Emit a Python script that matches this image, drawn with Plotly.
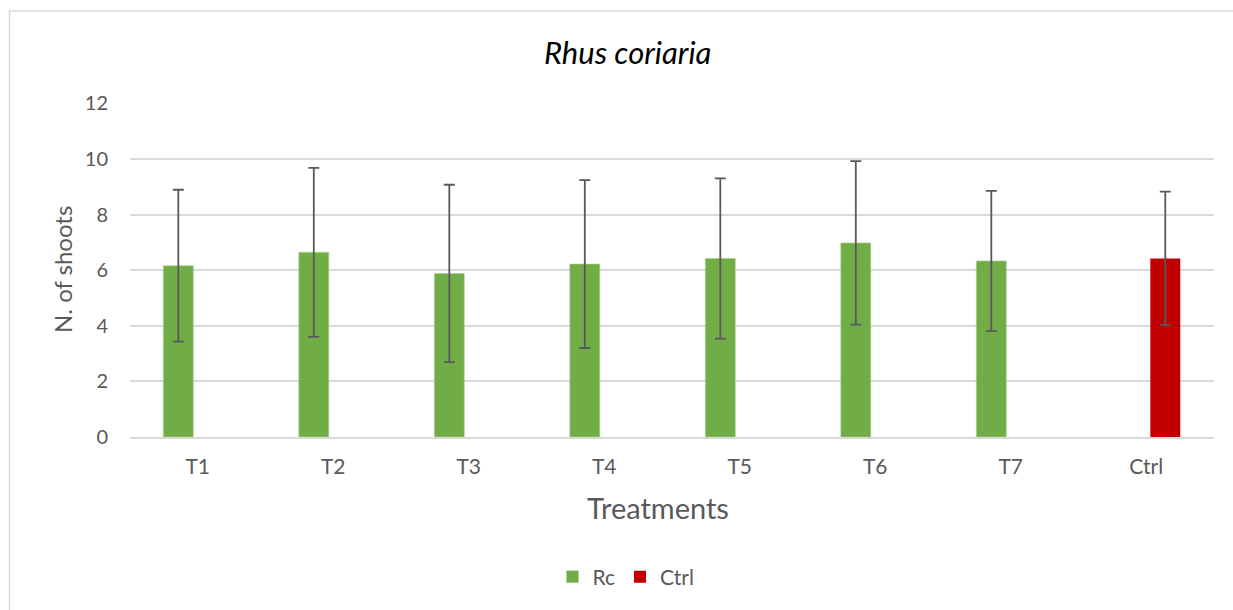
import plotly.graph_objects as go

categories = ["T1", "T2", "T3", "T4", "T5", "T6", "T7", "Ctrl"]
rc_categories = ["T1", "T2", "T3", "T4", "T5", "T6", "T7"]
rc_means = [6.16, 6.64, 5.88, 6.22, 6.42, 6.98, 6.33]
rc_sd = [2.73, 3.04, 3.19, 3.02, 2.88, 2.94, 2.52]
ctrl_categories = ["Ctrl"]
ctrl_means = [6.42]
ctrl_sd = [2.40]
y_ticks = [0, 2, 4, 6, 8, 10, 12]

W, H = 1233, 610
L, R, T, B = 130, 19, 103, 173
pw, ph = W - L - R, H - T - B

def px(x):
    return (x - L) / pw

def py(y):
    return (H - B - y) / ph

FONT = "Lato"
TXT = "#595959"
err_color = "#595959"

fig = go.Figure()
fig.add_trace(go.Bar(
    x=rc_categories, y=rc_means, name="Rc",
    marker=dict(color="#70AD47", line=dict(color="#A9D18E", width=0.6)),
    width=0.221, offset=-0.254,
    error_y=dict(type="data", array=rc_sd, visible=True, color=err_color, thickness=1.8, width=5.5),
))
fig.add_trace(go.Bar(
    x=ctrl_categories, y=ctrl_means, name="Ctrl",
    marker=dict(color="#C00000", line=dict(width=0)),
    width=0.221, offset=0.03,
    error_y=dict(type="data", array=ctrl_sd, visible=True, color=err_color, thickness=1.8, width=5.5),
))

fig.update_layout(
    width=W, height=H,
    margin=dict(l=L, r=R, t=T, b=B),
    paper_bgcolor="white", plot_bgcolor="white",
    barmode="overlay",
    font=dict(family=FONT, color=TXT),
    showlegend=True,
    legend=dict(orientation="h", x=px(626), xanchor="center", y=py(577), yanchor="middle",
                font=dict(size=21, color=TXT, family=FONT), itemwidth=30, tracegroupgap=0),
    xaxis=dict(categoryorder="array", categoryarray=categories, type="category",
               showgrid=False, showline=True, linecolor="#D9D9D9", linewidth=1.5,
               ticks="", tickfont=dict(size=21, color=TXT, family=FONT),
               ticklabelstandoff=10, range=[-0.5, 7.5]),
    yaxis=dict(range=[0, 12.01], tickvals=y_ticks, showgrid=True, gridcolor="#D9D9D9", gridwidth=1.5,
               zeroline=False, showline=False, ticks="",
               tickfont=dict(size=20, color=TXT, family=FONT), ticklabelstandoff=21),
    annotations=[
        dict(text="<i>Rhus coriaria</i>", xref="paper", yref="paper", x=px(627), y=py(52),
             xanchor="center", yanchor="middle", showarrow=False,
             font=dict(size=31, color="#000000", family=FONT)),
        dict(text="Treatments", xref="paper", yref="paper", x=px(658), y=py(507),
             xanchor="center", yanchor="middle", showarrow=False,
             font=dict(size=29, color=TXT, family=FONT)),
        dict(text="N. of shoots", xref="paper", yref="paper", x=px(62), y=py(270),
             xanchor="center", yanchor="middle", showarrow=False, textangle=-90,
             font=dict(size=24, color=TXT, family=FONT)),
    ],
    shapes=[
        dict(type="line", xref="paper", yref="paper", x0=px(9.5), x1=px(9.5), y0=py(11), y1=py(612),
             line=dict(color="#D9D9D9", width=1.5)),
        dict(type="line", xref="paper", yref="paper", x0=px(9), x1=px(1240), y0=py(11), y1=py(11),
             line=dict(color="#D9D9D9", width=1.5)),
    ],
)

fig.write_html("out.html", config={"displayModeBar": False},
               post_script="document.body.style.margin='0';")
